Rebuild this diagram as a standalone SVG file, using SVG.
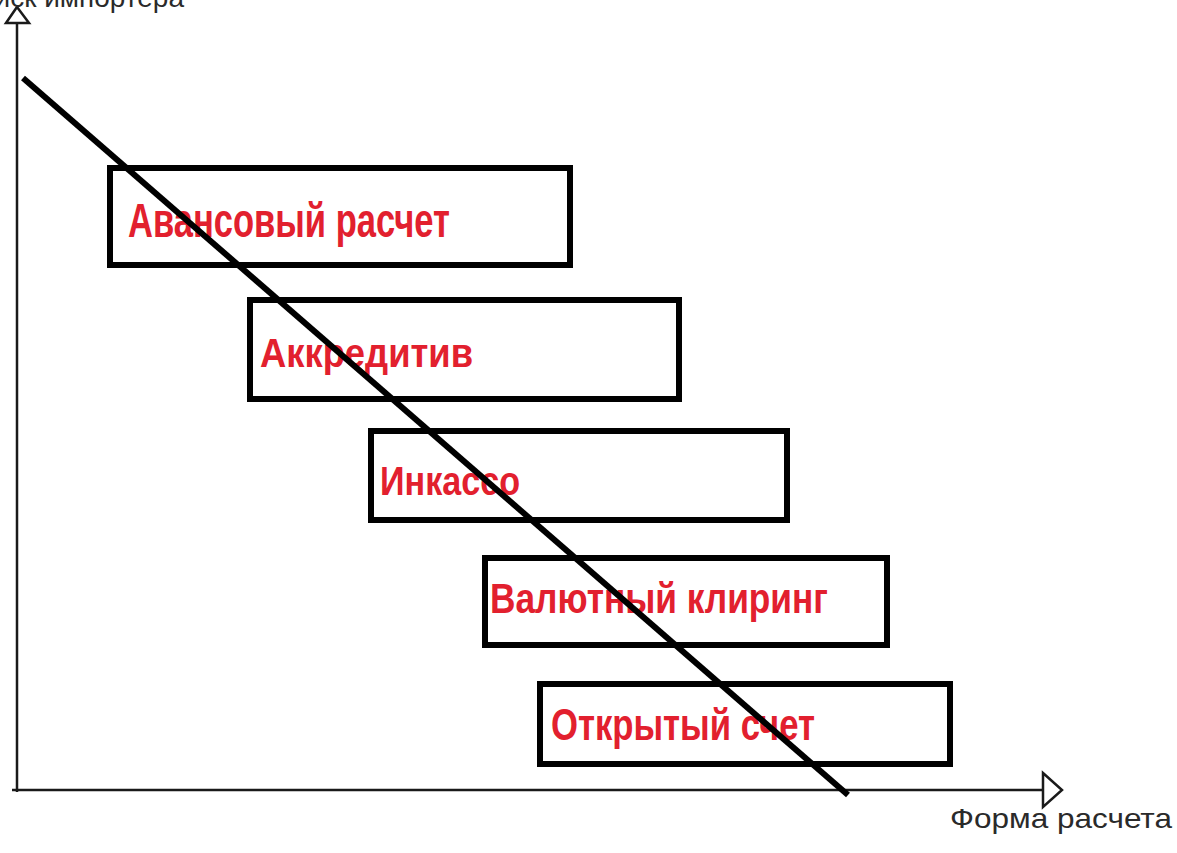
<svg xmlns="http://www.w3.org/2000/svg" width="1177" height="853" viewBox="0 0 1177 853">
<style>
.box{fill:#ffffff;stroke:#000000;stroke-width:6}
.lbl{font-family:"Liberation Sans",Arial,sans-serif;font-weight:bold;fill:#e2202e}
.axl{font-family:"Liberation Sans",Arial,sans-serif;fill:#2a2a2a;font-size:28px}
.axis{stroke:#1a1a1a;stroke-width:2.5;fill:none}
.head{fill:#ffffff;stroke:#1a1a1a;stroke-width:2.5}
</style>
<rect width="1177" height="853" fill="#ffffff"/>
<g id="axes">
<line class="axis" x1="17" y1="22" x2="17" y2="792"/>
<line class="axis" x1="12" y1="790" x2="1043" y2="790"/>
<polygon class="head" points="17,7 29,23 6,23"/>
<polygon class="head" points="1043,773 1062,790 1043,807"/>
<text class="axl" x="184" y="7" text-anchor="end">Риск импортера</text>
<text class="axl" x="950" y="828" textLength="222" lengthAdjust="spacingAndGlyphs">Форма расчета</text>
</g>
<g id="n1"><rect class="box" x="110" y="168" width="460" height="97"/><text class="lbl" x="128" y="237" font-size="48" textLength="322" lengthAdjust="spacingAndGlyphs">Авансовый расчет</text></g>
<g id="n2"><rect class="box" x="250" y="300" width="429" height="99"/><text class="lbl" x="260" y="367" font-size="40" textLength="213" lengthAdjust="spacingAndGlyphs">Аккредитив</text></g>
<g id="n3"><rect class="box" x="371" y="431" width="416" height="89"/><text class="lbl" x="380" y="495" font-size="40" textLength="140" lengthAdjust="spacingAndGlyphs">Инкассо</text></g>
<g id="n4"><rect class="box" x="485" y="558" width="402" height="87"/><text class="lbl" x="490" y="613" font-size="43" textLength="338" lengthAdjust="spacingAndGlyphs">Валютный клиринг</text></g>
<g id="n5"><rect class="box" x="540" y="684" width="410" height="80"/><text class="lbl" x="551" y="740" font-size="44" textLength="264" lengthAdjust="spacingAndGlyphs">Открытый счет</text></g>
<g id="connectors">
<line x1="23" y1="78" x2="848" y2="795" stroke="#000000" stroke-width="6"/>
</g>
</svg>
